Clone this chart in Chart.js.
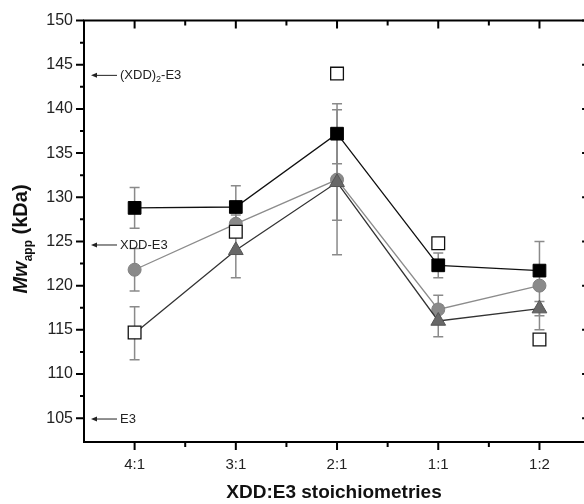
<!DOCTYPE html>
<html>
<head>
<meta charset="utf-8">
<script src="https://cdn.jsdelivr.net/npm/chart.js@4.4.0/dist/chart.umd.min.js"></script>
<style>
  html, body { margin: 0; padding: 0; background: #fff; overflow: hidden; }
</style>
</head>
<body>
<canvas id="chart" width="584" height="504"></canvas>
<script>
// stoichiometries on the x axis
const ratios = ['4:1', '3:1', '2:1', '1:1', '1:2'];

// apparent Mw (kDa) per series, with error bars
const filledSquares = [128.8, 128.9, 137.2, 122.3, 121.7];
const filledSquaresErr = [2.3, 2.4, 3.4, 1.4, 0.4];
const circles = [121.8, 127.0, 132.0, 117.3, 120.0];
const circlesErr = [2.4, 1.0, 4.6, 1.6, 5.0];
const triangles = [114.6, 124.0, 131.7, 116.0, 117.4];
const trianglesErr = [3.0, 3.1, 8.2, 1.8, 0.8];
const openSquares = [114.7, 126.1, 144.0, 124.8, 113.9];

// reference masses marked with arrows on the left
const refValues = [143.8, 124.6, 104.9];
const refLabels = [['(XDD)', '2', '-E3'], ['XDD-E3'], ['E3']];

const FONT = '"Liberation Sans", Arial, Helvetica, sans-serif';
const points = vals => vals.map((v, i) => ({ x: i, y: v }));

const errorBars = {
  id: 'errorBars',
  beforeDatasetsDraw(chart) {
    const { ctx, scales: { x, y } } = chart;
    const sets = [[filledSquares, filledSquaresErr], [circles, circlesErr], [triangles, trianglesErr]];
    ctx.save();
    ctx.strokeStyle = '#8a8a8a';
    ctx.lineWidth = 1.5;
    sets.forEach(([vals, errs]) => {
      vals.forEach((v, i) => {
        const px = x.getPixelForValue(i);
        const top = y.getPixelForValue(v + errs[i]);
        const bot = y.getPixelForValue(v - errs[i]);
        ctx.beginPath();
        ctx.moveTo(px, top); ctx.lineTo(px, bot);
        ctx.moveTo(px - 5, top); ctx.lineTo(px + 5, top);
        ctx.moveTo(px - 5, bot); ctx.lineTo(px + 5, bot);
        ctx.stroke();
      });
    });
    ctx.restore();
  }
};

const frame = {
  id: 'frame',
  afterDatasetsDraw(chart) {
    const { ctx, chartArea: a, scales: { x, y } } = chart;
    const xr = x.getPixelForValue(ratios.length - 0.5); // right axis, just past the canvas
    ctx.save();
    ctx.strokeStyle = '#000';
    ctx.lineWidth = 2;
    ctx.beginPath();
    ctx.moveTo(xr, a.top); ctx.lineTo(a.left, a.top);
    ctx.lineTo(a.left, a.bottom); ctx.lineTo(xr, a.bottom);
    ctx.lineTo(xr, a.top);
    ctx.stroke();

    ctx.beginPath();
    for (let v = 105; v <= 150; v += 2.5) {
      const py = y.getPixelForValue(v);
      const major = v % 5 === 0;
      ctx.moveTo(a.left - (major ? 8 : 4), py); ctx.lineTo(a.left, py);
      if (major) { ctx.moveTo(xr, py); ctx.lineTo(xr - 8, py); }
    }
    for (let i = 0; i < ratios.length; i++) {
      const px = x.getPixelForValue(i);
      ctx.moveTo(px, a.bottom); ctx.lineTo(px, a.bottom + 8);
      ctx.moveTo(px, a.top); ctx.lineTo(px, a.top + 8);
      if (i < ratios.length - 1) {
        const mx = x.getPixelForValue(i + 0.5);
        ctx.moveTo(mx, a.bottom); ctx.lineTo(mx, a.bottom + 5);
        ctx.moveTo(mx, a.top); ctx.lineTo(mx, a.top + 5);
      }
    }
    ctx.stroke();

    // reference arrows
    ctx.lineWidth = 1;
    ctx.strokeStyle = '#222';
    ctx.fillStyle = '#222';
    ctx.textBaseline = 'middle';
    refValues.forEach((v, k) => {
      const py = y.getPixelForValue(v);
      ctx.beginPath();
      ctx.moveTo(96, py); ctx.lineTo(117, py);
      ctx.stroke();
      ctx.beginPath();
      ctx.moveTo(91, py); ctx.lineTo(97, py - 2.5); ctx.lineTo(97, py + 2.5);
      ctx.closePath(); ctx.fill();
      let tx = 120;
      refLabels[k].forEach((part, j) => {
        const sub = refLabels[k].length === 3 && j === 1;
        ctx.font = (sub ? '9px ' : '13px ') + FONT;
        ctx.fillText(part, tx, py + (sub ? 4 : 0));
        tx += ctx.measureText(part).width;
      });
    });

    // y axis title with subscript
    ctx.translate(27, 239);
    ctx.rotate(-Math.PI / 2);
    ctx.textBaseline = 'alphabetic';
    ctx.fillStyle = '#111';
    const parts = [
      { t: 'Mw', f: 'italic bold 20px ', dy: 0 },
      { t: 'app', f: 'bold 12px ', dy: 5 },
      { t: ' (kDa)', f: 'bold 20px ', dy: 0 }
    ];
    let total = 0;
    parts.forEach(p => { ctx.font = p.f + FONT; total += ctx.measureText(p.t).width; });
    let lx = -total / 2;
    parts.forEach(p => {
      ctx.font = p.f + FONT;
      ctx.fillText(p.t, lx, p.dy);
      lx += ctx.measureText(p.t).width;
    });
    ctx.restore();
  }
};

new Chart(document.getElementById('chart'), {
  type: 'line',
  data: {
    datasets: [
      {
        data: points(openSquares),
        showLine: false,
        pointStyle: 'rect',
        pointRadius: 9,
        pointBackgroundColor: '#fff',
        pointBorderColor: '#111',
        pointBorderWidth: 1.3,
        order: 0
      },
      {
        data: points(filledSquares),
        borderColor: '#111',
        borderWidth: 1.3,
        pointStyle: 'rect',
        pointRadius: 9,
        pointBackgroundColor: '#000',
        pointBorderColor: '#000',
        pointBorderWidth: 1,
        order: 1
      },
      {
        data: points(triangles),
        borderColor: '#333',
        borderWidth: 1.3,
        pointStyle: 'triangle',
        pointRadius: [0, 8.5, 8.5, 8.5, 8.5],
        pointBackgroundColor: '#686868',
        pointBorderColor: '#555',
        pointBorderWidth: 1,
        order: 2
      },
      {
        data: points(circles),
        borderColor: '#8c8c8c',
        borderWidth: 1.3,
        pointStyle: 'circle',
        pointRadius: 6.5,
        pointBackgroundColor: '#8a8a8a',
        pointBorderColor: '#808080',
        pointBorderWidth: 1,
        order: 3
      }
    ]
  },
  options: {
    responsive: false,
    animation: false,
    devicePixelRatio: 1,
    layout: { autoPadding: false, padding: { top: 20, right: 0, left: 0, bottom: 0 } },
    plugins: { legend: { display: false }, tooltip: { enabled: false } },
    scales: {
      x: {
        type: 'linear',
        min: -0.5,
        max: 4.44,
        grid: { display: false, drawTicks: false },
        border: { display: false },
        afterBuildTicks(scale) { scale.ticks = ratios.map((_, i) => ({ value: i })); },
        ticks: {
          padding: 14,
          color: '#222',
          font: { family: FONT, size: 15 },
          callback: (v, i) => ratios[i]
        },
        title: {
          display: true,
          text: 'XDD:E3 stoichiometries',
          color: '#111',
          font: { family: FONT, size: 19, weight: 'bold' },
          padding: { top: 0, bottom: 0 }
        },
        afterFit(scale) { scale.height = 62; scale.paddingLeft = 0; scale.paddingRight = 0; }
      },
      y: {
        min: 102.3,
        max: 150,
        grid: { display: false, drawTicks: false },
        border: { display: false },
        ticks: {
          stepSize: 5,
          padding: 11,
          color: '#222',
          font: { family: FONT, size: 16 },
          callback: v => (v % 5 === 0 ? v : '')
        },
        afterFit(scale) { scale.width = 84; }
      }
    }
  },
  plugins: [errorBars, frame]
});
</script>
</body>
</html>
